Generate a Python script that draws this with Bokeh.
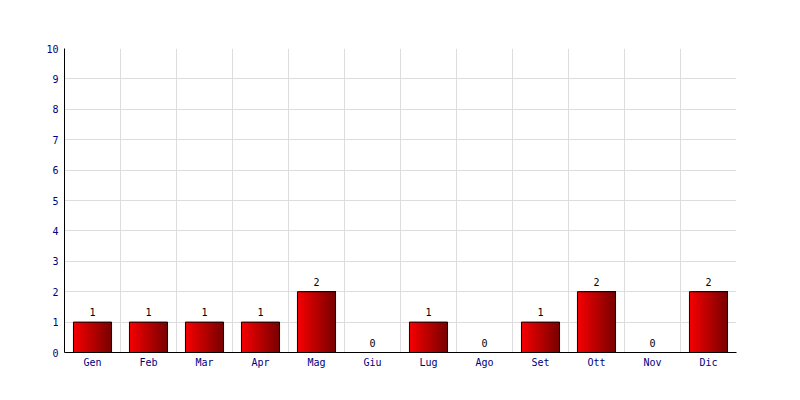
from bokeh.plotting import figure
from bokeh.models import FixedTicker, ColumnDataSource
from bokeh.core.properties import value
from bokeh.embed import file_html
from bokeh.resources import INLINE

months = ["Gen", "Feb", "Mar", "Apr", "Mag", "Giu", "Lug", "Ago", "Set", "Ott", "Nov", "Dic"]
counts = [1, 1, 1, 1, 2, 0, 1, 0, 1, 2, 0, 2]
y_ticks = list(range(0, 11))

FONT = "DejaVu Sans Mono"
BAR_W = 0.68
N_SLICES = 38

p = figure(width=784, height=384, x_range=(0, len(months)), y_range=(0, 10),
           output_backend="svg", toolbar_location=None,
           min_border_left=64, min_border_right=48, min_border_top=48, min_border_bottom=32)
p.outline_line_color = None
p.background_fill_color = "white"

centers = [i + 0.5 for i in range(len(months))]

def lerp(a, b, t):
    return int(round(a + (b - a) * t))

# gradient bars: each slice runs from its left edge to the bar's right edge,
# drawn left to right so later slices cover earlier ones (no seams)
slice_w = BAR_W / N_SLICES
for k in range(N_SLICES):
    t = k / (N_SLICES - 1)
    col = "#%02x%02x%02x" % (lerp(0xf4, 0x7a, t), 0, 0)
    w = BAR_W - slice_w * k
    xs = [c + BAR_W / 2 - w / 2 for c in centers]
    p.vbar(x=xs, top=counts, width=w, bottom=0,
           fill_color=col, line_color=None)

p.vbar(x=centers, top=counts, width=BAR_W, bottom=0,
       fill_color=None, line_color="black", line_width=1)

src = ColumnDataSource(dict(x=centers, y=counts, t=[str(v) for v in counts]))
p.text(x="x", y="y", text="t", source=src, text_align="center",
       text_baseline="alphabetic", y_offset=-10,
       text_font=value(FONT), text_font_size="10px", text_color="black")

p.xgrid.ticker = FixedTicker(ticks=list(range(len(months) + 1)))
p.ygrid.ticker = FixedTicker(ticks=y_ticks)
p.xgrid.grid_line_color = "#dddddd"
p.ygrid.grid_line_color = "#dddddd"
p.xgrid.level = "underlay"
p.ygrid.level = "underlay"

p.xaxis.ticker = FixedTicker(ticks=centers)
p.xaxis.major_label_overrides = {c: m for c, m in zip(centers, months)}
p.yaxis.ticker = FixedTicker(ticks=y_ticks)

for ax in (p.xaxis[0], p.yaxis[0]):
    ax.axis_line_color = "black"
    ax.axis_line_width = 1
    ax.major_tick_line_color = None
    ax.minor_tick_line_color = None
    ax.major_tick_out = 0
    ax.major_tick_in = 0
    ax.major_label_text_font = FONT
    ax.major_label_text_font_size = "10px"
    ax.major_label_text_color = "#000080"
p.yaxis.major_label_standoff = 6
p.xaxis.major_label_standoff = 4

open("out.html", "w").write(file_html(p, INLINE))
